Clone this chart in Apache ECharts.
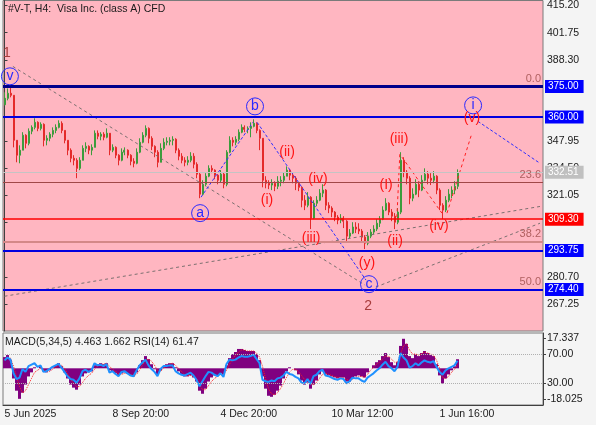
<!DOCTYPE html>
<html>
<head>
<meta charset="utf-8">
<script src="https://cdn.jsdelivr.net/npm/echarts@6.0.0/dist/echarts.min.js"></script>
<style>
html, body { margin: 0; padding: 0; background: #f4f4f4; }
#chart { width: 596px; height: 425px; }
</style>
</head>
<body>
<div id="chart"></div>
<script>
// price candles (H4)
const firstOpen = 366.0;
const closes = [
  369.2, 371.7, 370.7, 348.4, 341.0, 343.5, 350.9, 346.9, 352.9, 354.8,
  357.3, 354.3, 356.3, 348.4, 349.4, 351.4, 353.3, 354.8, 356.8, 353.3,
  348.4, 343.5, 339.5, 338.5, 334.5, 338.5, 344.4, 345.4, 343.5, 344.9,
  351.9, 350.4, 351.4, 349.9, 351.9, 343.5, 344.9, 341.0, 338.5, 342.5,
  343.5, 341.0, 338.0, 337.0, 342.5, 347.4, 350.9, 354.3, 349.4, 345.4,
  342.5, 337.5, 344.4, 347.4, 347.9, 348.4, 348.9, 343.5, 340.5, 338.5,
  337.5, 338.5, 340.5, 336.5, 331.6, 321.7, 326.6, 330.6, 334.5, 333.6,
  331.1, 328.6, 331.6, 326.6, 342.5, 348.4, 347.4, 348.9, 352.4, 354.8,
  353.8, 354.3, 355.3, 356.8, 353.3, 349.4, 328.6, 327.1, 326.2, 327.1,
  325.6, 328.1, 328.6, 330.6, 333.6, 331.1, 329.6, 327.1, 325.1, 318.7,
  316.2, 320.2, 309.8, 317.2, 318.7, 322.2, 323.7, 316.2, 314.8, 312.8,
  310.3, 308.8, 309.8, 308.3, 300.9, 302.4, 305.4, 304.4, 303.4, 300.4,
  297.4, 300.9, 302.9, 304.4, 307.3, 309.3, 313.8, 317.2, 312.8, 310.8,
  307.8, 312.8, 338.5, 332.6, 329.6, 319.7, 321.7, 326.6, 323.7, 328.6,
  331.6, 329.6, 328.6, 330.6, 323.7, 316.2, 313.8, 318.7, 321.7, 323.7,
  325.6, 332.51
];
const highs = [
  372.2, 374.1, 375.6, 370.7, 348.4, 345.9, 352.4, 351.4, 354.3, 355.8,
  359.3, 357.8, 357.3, 356.8, 350.9, 352.4, 354.8, 356.3, 358.3, 357.8,
  353.3, 348.4, 344.4, 341.0, 339.5, 340.0, 345.9, 347.4, 345.9, 346.4,
  353.3, 353.3, 352.4, 352.4, 354.3, 351.9, 346.4, 345.4, 341.5, 344.4,
  344.9, 343.9, 341.5, 339.5, 344.4, 349.4, 352.4, 355.8, 354.8, 350.4,
  345.9, 343.5, 346.9, 349.4, 349.9, 349.9, 350.4, 349.4, 344.4, 342.0,
  340.0, 340.5, 342.5, 342.0, 337.5, 332.6, 328.6, 332.1, 336.0, 336.0,
  334.0, 331.6, 333.6, 332.6, 343.5, 350.4, 349.9, 350.4, 353.8, 356.3,
  355.8, 355.3, 357.3, 358.8, 357.3, 353.8, 348.4, 330.6, 328.6, 329.1,
  328.1, 330.6, 330.6, 332.6, 335.5, 334.0, 332.6, 330.6, 327.6, 325.6,
  321.2, 322.7, 320.7, 318.7, 320.7, 324.2, 326.6, 324.2, 317.7, 315.7,
  313.3, 311.3, 311.8, 310.8, 308.8, 304.4, 307.8, 307.8, 307.3, 304.4,
  301.4, 302.9, 304.4, 306.3, 309.3, 310.8, 315.7, 319.7, 317.7, 314.3,
  312.3, 314.8, 342.5, 340.0, 333.6, 330.6, 324.6, 329.1, 328.1, 331.1,
  334.5, 333.1, 332.1, 333.1, 331.1, 324.6, 317.2, 320.7, 324.2, 325.6,
  328.1, 334.0
];
const lows = [
  365.7, 368.2, 369.7, 344.9, 337.5, 337.0, 343.5, 344.4, 345.9, 351.4,
  353.8, 352.9, 353.3, 345.4, 345.9, 347.9, 349.9, 351.9, 354.3, 351.9,
  346.9, 341.0, 337.5, 336.0, 329.6, 333.6, 338.5, 342.5, 341.5, 341.0,
  344.9, 348.9, 348.4, 348.4, 349.4, 341.0, 342.5, 339.5, 336.0, 338.0,
  341.0, 339.5, 336.0, 335.0, 336.5, 342.0, 346.9, 349.9, 346.9, 343.5,
  340.0, 335.0, 337.5, 343.5, 345.9, 345.9, 345.9, 342.0, 338.5, 337.0,
  335.5, 336.0, 337.5, 334.5, 329.6, 319.7, 321.2, 325.6, 330.1, 332.1,
  329.1, 326.6, 327.6, 324.6, 325.6, 342.0, 345.4, 345.9, 347.9, 351.9,
  352.4, 351.9, 349.9, 354.8, 351.9, 343.5, 325.1, 324.6, 324.2, 323.7,
  323.2, 324.2, 325.6, 327.1, 330.6, 328.6, 327.1, 323.7, 323.2, 315.2,
  313.8, 315.2, 304.4, 309.3, 315.7, 318.2, 320.2, 313.8, 312.3, 310.3,
  308.3, 306.8, 307.3, 304.9, 298.4, 299.9, 301.9, 302.4, 301.9, 298.4,
  294.5, 296.4, 299.9, 301.9, 303.4, 305.4, 308.8, 313.3, 311.3, 308.3,
  304.4, 306.8, 311.8, 330.1, 326.6, 316.7, 318.2, 321.2, 320.2, 323.2,
  328.1, 326.6, 326.2, 327.1, 321.7, 313.8, 309.3, 312.8, 317.7, 319.7,
  321.7, 324.2
];

// MACD(5,34,5) main (histogram) and signal, RSI(14)
const macdMain = [
  5.5, 6.5, 4, -5, -11, -15, -12, -8, -4, -2,
  0.5, 0, 1, -1.5, -2, -1, 0.5, 1.5, 2.5, 1,
  -2, -5, -8, -9.5, -10.5, -8, -4, -2.5, -2, -1.5,
  1.5, 2, 2.5, 2, 2.5, -1, -1.5, -2.5, -3.5, -2.5,
  -2, -2.5, -3.5, -4, -2, 1.5, 4, 6, 4.5, 2,
  -0.5, -3, -1, 1, 2, 2.5, 2.5, 0.5, -1.5, -3,
  -4, -4, -3.5, -4.5, -6.5, -11, -12.5, -10, -6.5, -4.5,
  -3.5, -3.5, -2.5, -3, 1.5, 5, 7, 8, 9.5, 9.5,
  9, 8.5, 8.5, 8.5, 7, 4, -4, -10, -13.5, -14,
  -13, -11, -8.5, -5, -1.5, 0.5, 0, -1, -3, -6,
  -8, -7, -10, -8, -6, -3, -1.5, -3, -3.5, -4,
  -4.5, -5, -4.5, -4.5, -6.5, -6.5, -5, -4, -3.5, -4,
  -4.5, -2, 0, 1.5, 3, 4, 6, 7.5, 5.5, 3,
  1.5, 3, 11, 14.5, 12, 6, 5, 7, 6, 7.5,
  8.5, 7.5, 6.5, 6, 2, -3.5, -7.5, -5, -3, -1,
  1, 4.463
];
const macdSignal = [
  4, 5, 5, 1, -4, -9, -12, -11, -8, -5,
  -2, -1, 0, -0.5, -1.5, -1.5, -0.5, 0.5, 1.5, 1.5,
  0, -2.5, -5, -7.5, -9, -9, -7, -5, -3.5, -2.5,
  -0.5, 1, 2, 2, 2.5, 1, -0.5, -1.5, -2.5, -3,
  -2.5, -2.5, -3, -3.5, -3, -1, 1.5, 4, 4.5, 3.5,
  1.5, -1, -1.5, 0, 1, 2, 2.5, 1.5, 0, -1.5,
  -3, -3.5, -3.5, -4, -5, -8, -10.5, -10.5, -8.5, -6.5,
  -5, -4, -3, -3, -1, 2, 4.5, 6.5, 8, 9,
  9, 8.5, 8.5, 8.5, 7.5, 5.5, 1, -5, -10, -12.5,
  -13, -12, -10, -7.5, -4.5, -2, -0.5, -0.5, -1.5, -3.5,
  -5.5, -6.5, -8, -8, -7, -5, -3, -2.5, -3, -3.5,
  -4, -4.5, -4.5, -4.5, -5.5, -6, -5.5, -4.5, -4, -4,
  -4.5, -3, -1, 0.5, 2, 3, 4.5, 6, 6, 4.5,
  3, 3, 7, 11, 12, 9, 7, 7, 6.5, 7,
  8, 7.5, 7, 6.5, 4, 0, -4.5, -5, -4, -2,
  -0.5, 1.662
];
const rsi = [
  62, 66, 63, 44, 36, 38, 50, 46, 54, 56,
  58, 53, 55, 46, 47, 50, 53, 55, 57, 52,
  46, 40, 36, 35, 31, 37, 47, 49, 46, 48,
  58, 55, 56, 54, 57, 45, 47, 43, 40, 46,
  47, 44, 41, 40, 48, 55, 59, 63, 55, 50,
  46, 40, 50, 54, 54, 55, 55, 47, 44, 42,
  41, 43, 45, 41, 35, 26, 33, 40, 46, 45,
  42, 40, 44, 39, 57, 63, 62, 63, 66, 68,
  67, 67, 68, 70, 64, 58, 35, 33, 32, 34,
  33, 37, 38, 41, 46, 43, 42, 39, 37, 31,
  30, 36, 29, 40, 42, 47, 49, 41, 40, 38,
  36, 35, 37, 36, 30, 33, 38, 37, 37, 34,
  32, 38, 41, 44, 48, 51, 56, 60, 54, 51,
  47, 53, 72, 66, 62, 52, 54, 58, 55, 59,
  62, 60, 59, 61, 53, 46, 42, 48, 51, 53,
  55, 61.47
];

// axis ticks
const slotCount = 180;
const dateTicks = [0, 36, 72, 109, 145];
const dateLabels = ['5 Jun 2025', '8 Sep 20:00', '4 Dec 20:00', '10 Mar 12:00', '1 Jun 16:00'];
const priceTicks = [415.20, 401.75, 388.30, 347.95, 334.50, 321.05, 307.60, 280.70, 267.25];
const macdTicks = [17.337, -18.025];
const rsiTicks = [70, 30];

// drawn levels
const levelPrices = [375.00, 360.00, 309.30, 293.75, 274.40];
const fibNames = ['0.0', '23.6', '38.2', '50.0'];
const fibPrices = [375.00, 327.52, 298.14, 274.40];
const bidPrice = 332.51;

// wave marks: [name, bar, price]
const waveCircled = [['v', 1.8, 380.1], ['a', 65.2, 312.3], ['b', 83.5, 365.2], ['c', 121.5, 277.1], ['i', 156.2, 365.7]];
const waveMinor = [
  ['(i)', 87.5, 318.7], ['(ii)', 94.2, 342.5], ['(iii)', 102.2, 299.9], ['(iv)', 104.5, 329.1],
  ['(y)', 120.8, 287.5], ['(I)', 127.2, 326.1], ['(ii)', 130.2, 298.4], ['(iii)', 131.5, 348.9],
  ['(iv)', 144.8, 305.8], ['(v)', 155.8, 359.3]
];
const waveMajor = [['1', 0.8, 391.4], ['2', 121.2, 266.2]];

// trend lines: [[bar, price], [bar, price]]
const grayLines = [
  [[2.8, 385.0], [120.2, 276.6]],
  [[123.8, 275.7], [178.5, 307.3]],
  [[0, 271.1], [178.5, 315.6]]
];
const blueLines = [
  [[65.5, 320.2], [82.8, 357.3]],
  [[84.2, 357.3], [120.5, 279.1]],
  [[157.8, 357.8], [178.5, 337.0]]
];
const redLines = [
  [[130.8, 310.3], [131.8, 342.5]],
  [[132.5, 340.0], [145.8, 312.3]],
  [[147.5, 312.3], [155.8, 351.9]]
];

const FONT = '"Liberation Sans", Arial, sans-serif';
const levelColors = ['#00008b', '#0000e0', '#ff0000', '#0000e0', '#0000e0'];
const levelWidths = [3, 2, 1.5, 2, 2];
const levelBoxes = ['#0000ff', '#0000ff', '#ff0000', '#0000ff', '#0000ff'];
const fibColors = ['#a04848', '#a04848', '#d48888', '#a04848'];
const fibWidths = [1, 1, 2, 1];

const cats = Array.from({ length: slotCount }, (_, i) => String(i));
const candles = closes.map((c, i) => {
  const o = i === 0 ? firstOpen : closes[i - 1];
  return [o, c, Math.min(lows[i], o, c), Math.max(highs[i], o, c)];
});

const markData = [];
fibPrices.forEach((p, k) => {
  markData.push({
    yAxis: p,
    lineStyle: { color: fibColors[k], width: fibWidths[k], type: 'solid' },
    label: { show: true, position: 'insideEndTop', distance: 2, formatter: fibNames[k],
      color: '#b06060', fontSize: 11, fontFamily: FONT }
  });
});
markData.push({
  yAxis: bidPrice,
  lineStyle: { color: '#c4c4c4', width: 1, type: 'solid' },
  label: { show: true, position: 'end', distance: 2, formatter: bidPrice.toFixed(2),
    backgroundColor: '#c0c0c0', color: '#ffffff', fontSize: 10, fontFamily: FONT,
    padding: [1, 5, 1, 3], lineHeight: 11 }
});
levelPrices.forEach((p, k) => {
  markData.push({
    yAxis: p,
    lineStyle: { color: levelColors[k], width: levelWidths[k], type: 'solid' },
    label: { show: true, position: 'end', distance: 2, formatter: p.toFixed(2),
      backgroundColor: levelBoxes[k], color: '#ffffff', fontSize: 10, fontFamily: FONT,
      padding: [1, 5, 1, 3], lineHeight: 11 }
  });
});

function segSeries(list, color, dash) {
  return list.map(seg => ({
    type: 'line', xAxisIndex: 2, yAxisIndex: 0, data: seg, symbol: 'none', silent: true,
    lineStyle: { color: color, width: 1, type: dash }, z: 4
  }));
}

function textMarks(list, color, size) {
  return {
    type: 'scatter', xAxisIndex: 2, yAxisIndex: 0, silent: true, z: 6,
    data: list.map(w => ({ name: w[0], value: [w[1], w[2]] })),
    symbol: 'circle', symbolSize: 1,
    itemStyle: { color: 'rgba(0,0,0,0)', opacity: 1 },
    label: { show: true, position: 'inside', formatter: '{b}', color: color, opacity: 1,
      fontSize: size, fontFamily: FONT, textBorderWidth: 0 }
  };
}

const option = {
  animation: false,
  backgroundColor: '#f4f4f4',
  textStyle: { fontFamily: FONT },
  graphic: [
    { type: 'text', x: 8, y: 4, z: 10,
      style: { text: '#V-T, H4:  Visa Inc. (class A) CFD', fill: '#1a1a1a', font: '10.5px ' + FONT } },
    { type: 'text', x: 5, y: 337, z: 10,
      style: { text: 'MACD(5,34,5) ' + macdMain[macdMain.length - 1].toFixed(3) + ' ' +
        macdSignal[macdSignal.length - 1].toFixed(3) + ' RSI(14) ' + rsi[rsi.length - 1].toFixed(2),
        fill: '#1a1a1a', font: '10.5px ' + FONT } }
  ],
  grid: [
    { left: 3, right: 53, top: 0, height: 331, show: true, backgroundColor: '#ffb6c1', borderColor: '#7a7a7a', borderWidth: 1 },
    { left: 3, right: 53, top: 333, height: 72, show: true, backgroundColor: '#f4f4f4', borderColor: '#7a7a7a', borderWidth: 1 }
  ],
  xAxis: [
    { type: 'category', gridIndex: 0, data: cats, show: false },
    { type: 'category', gridIndex: 1, data: cats,
      axisLine: { onZero: false, lineStyle: { color: '#404040' } },
      axisTick: { interval: (i) => dateTicks.includes(i), length: 4, lineStyle: { color: '#404040' } },
      axisLabel: { interval: (i) => dateTicks.includes(i), align: 'left', margin: 4,
        formatter: (v, i) => { const k = dateTicks.indexOf(Number(v)); return k >= 0 ? dateLabels[k] : ''; },
        color: '#1a1a1a', fontSize: 10.5, fontFamily: FONT },
      splitLine: { show: false } },
    { type: 'value', gridIndex: 0, min: -0.5, max: slotCount - 0.5, show: false }
  ],
  yAxis: [
    { type: 'value', gridIndex: 0, position: 'right', min: 253.88, max: 417.67,
      axisLine: { show: true, lineStyle: { color: '#404040' } },
      axisTick: { show: true, length: 3, customValues: priceTicks, lineStyle: { color: '#404040' } },
      axisLabel: { customValues: priceTicks, formatter: (v) => v.toFixed(2), margin: 4,
        color: '#1a1a1a', fontSize: 10.5, fontFamily: FONT },
      splitLine: { show: false } },
    { type: 'value', gridIndex: 1, position: 'right', min: -18.025, max: 17.337,
      axisLine: { show: true, lineStyle: { color: '#404040' } },
      axisTick: { show: true, length: 3, customValues: [14.88, -15.08], lineStyle: { color: '#404040' } },
      axisLabel: { customValues: [14.88, -15.08], margin: 4,
        formatter: (v) => (v > 0 ? macdTicks[0] : macdTicks[1]).toFixed(3),
        color: '#1a1a1a', fontSize: 10.5, fontFamily: FONT },
      splitLine: { show: false } },
    { type: 'value', gridIndex: 1, position: 'right', min: 0, max: 100,
      axisLine: { show: false },
      axisTick: { show: true, length: 3, customValues: rsiTicks, lineStyle: { color: '#404040' } },
      axisLabel: { customValues: rsiTicks, formatter: (v) => v.toFixed(2), margin: 4,
        color: '#1a1a1a', fontSize: 10.5, fontFamily: FONT },
      splitLine: { show: false } }
  ],
  series: [
    { type: 'candlestick', xAxisIndex: 0, yAxisIndex: 0, data: candles, barWidth: 1.5, clip: false,
      itemStyle: { color: '#3c9c3c', color0: '#e42a2a', borderColor: '#3c9c3c', borderColor0: '#e42a2a', borderWidth: 1 },
      markLine: { silent: true, symbol: 'none', animation: false, data: markData } },
    ...segSeries(grayLines, '#7c7070', [3, 3]),
    ...segSeries(blueLines, '#2f2fff', [3, 2]),
    ...segSeries(redLines, '#ff2020', [3, 3]),
    { type: 'scatter', xAxisIndex: 2, yAxisIndex: 0, silent: true, z: 6,
      data: waveCircled.map(w => ({ name: w[0], value: [w[1], w[2]] })),
      symbol: 'circle', symbolSize: 17,
      itemStyle: { color: 'rgba(255,182,193,0)', borderColor: '#2a2aff', borderWidth: 1, opacity: 1 },
      label: { show: true, position: 'inside', formatter: '{b}', color: '#2a2aff', fontSize: 14,
        fontFamily: FONT, textBorderWidth: 0 } },
    textMarks(waveMinor, '#ff1414', 14),
    textMarks(waveMajor, '#a83c3c', 14),
    { type: 'bar', xAxisIndex: 1, yAxisIndex: 1, data: macdMain, barWidth: '100%',
      itemStyle: { color: '#800080' }, silent: true },
    { type: 'line', xAxisIndex: 1, yAxisIndex: 1, data: macdSignal, symbol: 'none', silent: true,
      lineStyle: { color: '#ff2020', width: 1, type: 'dotted' }, z: 3 },
    { type: 'line', xAxisIndex: 1, yAxisIndex: 2, data: rsi, symbol: 'none', silent: true,
      lineStyle: { color: '#1e90ff', width: 2 }, z: 4,
      markLine: { silent: true, symbol: 'none', label: { show: false },
        lineStyle: { color: '#b0b0b0', type: 'dotted', width: 1 },
        data: rsiTicks.map(v => ({ yAxis: v })) } }
  ]
};

const chart = echarts.init(document.getElementById('chart'));
chart.setOption(option);
</script>
</body>
</html>
